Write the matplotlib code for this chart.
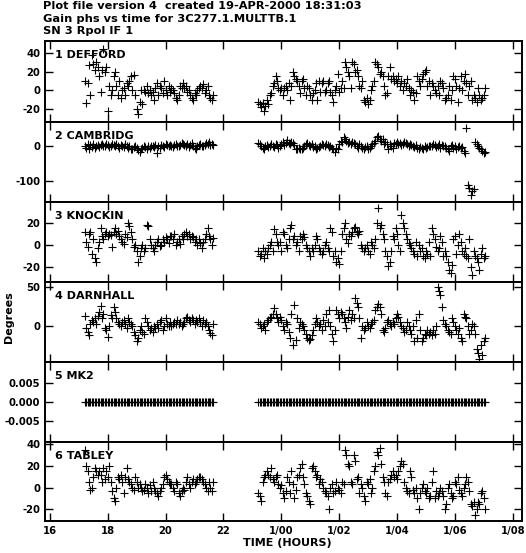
import numpy as np
import matplotlib
matplotlib.use("Agg")
import matplotlib.pyplot as plt

plt.rcParams['font.family'] = ['DejaVu Sans']
plt.rcParams['font.weight'] = 'bold'
plt.rcParams['axes.unicode_minus'] = False

# sample spacing 0.05 h; first pass starts 17.2 h, second pass 23.2 h
T0_A = 17.2
T0_B = 23.2
STEP = 0.05

antennas = ['1 DEFFORD', '2 CAMBRIDG', '3 KNOCKIN', '4 DARNHALL', '5 MK2', '6 TABLEY']

defford_a = [10, -14, 8, 27, -5, 38, 28, 22, 30, 25,
             15, -2, 22, 44, 20, 25, -22, 5, -5, 0,
             15, 20, 5, -5, 10, -8, 0, 3, -5, 8,
             5, 10, 15, 0, 17, -5, -20, -25, -12, 0,
             -15, 0, -2, 5, -3, 0, -5, -2, -10, 3,
             8, -5, 5, 3, -3, 10, 0, -5, 5, -2,
             3, 0, -3, -8, -10, -5, 5, 2, 8, 3,
             5, -2, 0, -5, -8, -10, -3, -5, 0, 2,
             5, 3, 7, -3, 0, 5, -5, -8, -10, -5]
defford_b = [-12, -15, -18, -14, -22, -17, -10, -15, -5, -3,
             5, 8, 15, 10, 2, 0, 3, -5, 2, 5,
             0, 8, -10, 5, 20, 15, 12, 10, 5, -3,
             10, 12, 3, -5, 5, 2, -5, -10, -3, 0,
             8, -10, 10, -2, 8, 10, -2, 0, 8, 10,
             -2, -5, -12, 0, 5, 18, -2, 3, 10, 3,
             30, 25, 20, 15, 3, 30, 28, 20, 22, 15,
             5, 2, 10, -10, -12, -8, -15, -10, 0, 5,
             10, 30, 28, 25, 18, 20, 15, 5, -5, -3,
             15, 25, 12, 15, 10, 12, 8, 15, 5, 10,
             0, 8, 5, 12, 3, -5, 0, -2, -10, -3,
             15, 10, 5, 12, 18, 20, 22, 5, 10, -5,
             8, 5, 0, -3, 5, -5, 10, 8, 3, -10,
             -8, -5, 5, -10, 0, 15, 12, 5, -12, 3,
             15, 0, 10, 18, 8, -5, 5, 10, -10, -5,
             -8, -12, 3, -5, -10, -8, -5, 2]

cambridg_a = [0, -5, 5, -8, 3, -3, 5, -5, 0, 2,
              -3, 3, 5, 0, -2, 5, 3, -3, 0, 4,
              2, -2, 5, 0, -5, 3, 0, -3, 5, -2,
              -5, 0, -8, -10, -3, 0, -5, -12, -17, -8,
              -5, 0, -3, -8, 0, -5, -2, 0, -3, 2,
              -20, 0, -5, 3, 0, -3, 5, 2, -2, 3,
              0, -3, 2, 5, -2, 0, 3, 8, 5, 2,
              0, 5, -3, 2, 8, 0, -5, -10, 0, 3,
              5, 0, -2, 3, 8, 5, 10, 3, 5, 2]
cambridg_b = [8, 5, 0, -5, -8, 0, 2, -3, 0, 5,
              0, -3, 5, 3, -5, 0, 5, 10, 3, 8,
              16, 8, 5, 10, 8, 3, -10, -8, -5, -10,
              -8, -5, 0, 5, 8, 3, 0, 5, -3, 0,
              -8, -5, -3, 0, 5, 3, 0, 5, 2, -3,
              0, -5, -10, -19, -5, -8, 5, 15, 10, 24,
              20, 15, 8, 10, 5, 10, 8, 5, 0, -5,
              5, 0, -5, -10, -3, 0, -8, -5, 0, 5,
              8, 15, 25, 29, 20, 15, 18, 5, 10, 5,
              -10, 5, 0, -5, 8, 5, 10, 5, 8, 3,
              5, 10, 8, 5, 0, 5, 3, 0, -3, 2,
              -5, -10, -3, -5, -8, 0, -5, -3, 0, -2,
              0, 5, 2, -3, 0, 5, -5, 3, 0, -2,
              -5, -10, -15, 0, 3, -5, 0, -8, -3, 0,
              -5, -3, -15, -22, 52, -112, -122, -141, -130, -125,
              10, 5, 0, -5, -10, -15, -20, -18]

knockin_a = [12, 3, -2, 10, 12, -8, 5, -12, -15, -3,
             3, 15, 8, 5, 10, 12, 8, 10, 9, -2,
             12, 15, 10, 13, 8, 5, 3, 1, 10, 7,
             20, 17, 12, 5, -2, 0, -5, -15, -10, -3,
             0, -5, -3, 18, 17, 5, 0, -3, -5, 0,
             3, 5, -1, 0, 5, 3, 7, 5, 2, 8,
             8, 5, 10, 0, 3, 5, 1, 8, 5, 10,
             12, 8, 10, 5, 8, 7, 3, 5, 0, 5,
             2, -3, 3, 5, 10, 15, 8, 5, 0, 6]
knockin_b = [-5, -10, -8, -3, -12, -5, -8, -3, 0, 3,
             -5, 14, 10, 3, 0, 3, -5, 12, 10, 0,
             -3, 5, 15, 18, 5, 8, 0, 3, -5, 8,
             5, 10, 7, 0, -3, -5, -10, -3, -5, 0,
             8, 5, -3, -5, -8, -5, 0, 3, -3, -5,
             15, 12, -10, -5, -15, -12, -17, -5, 10, 15,
             20, 5, 2, 10, 8, 12, 15, 16, 12, 10,
             13, 0, -3, -5, -3, 0, -5, -8, 3, 0,
             -3, 5, 20, 33, 15, 18, 10, 5, -5, -10,
             -19, -15, -5, 8, 5, 15, 10, 0, -5, 27,
             20, 15, 10, 5, 2, 0, -3, -5, -8, 3,
             -10, 0, -5, -3, -10, -12, -5, -8, 3, -10,
             15, 10, 5, -2, -5, -3, 8, 3, -10, -5,
             -10, -15, -22, -25, -18, 5, 8, -8, 0, 10,
             3, -5, -8, -3, -10, -12, 5, -20, -27, -5,
             -10, -12, -15, -22, -8, -3, -12, -10]

darnhall_a = [13, -2, -8, -12, 3, 8, 5, 10, 2, 13,
              18, 26, 10, 15, -2, -5, -14, 0, 14, 10,
              25, 18, 10, 5, 3, 0, 5, 8, 2, -3,
              10, 5, 3, 0, -8, -12, -20, -15, -5, 0,
              -8, -10, 10, 5, 0, -5, -3, -8, 0, -3,
              3, -2, 5, 8, -5, 0, 10, 3, 0, 5,
              0, 3, 5, 2, 8, 3, 5, 0, 3, 5,
              10, 12, 8, 5, 10, 8, 3, 8, 5, 10,
              5, 0, 8, 3, 5, 0, -5, -9, -12, 2]
darnhall_b = [5, 3, -2, 0, 3, -5, 5, 8, 10, 12,
              15, 23, 15, 10, 5, 12, 8, 0, -5, 5,
              3, -8, -15, 15, -25, 27, -18, 10, -3, 5,
              3, 0, -5, -10, -15, -18, -17, -12, -5, 3,
              10, 5, 0, 3, -5, 8, 0, 15, 5, 20,
              0, -10, -20, -5, 20, 15, 10, 18, 15, 10,
              5, -3, 12, 20, 8, 15, 10, 36, 30, 25,
              10, -15, 0, -5, -3, 5, 0, -2, 3, 5,
              8, 20, 25, 29, 25, 15, -5, -8, -3, 5,
              8, 3, 0, 5, 3, 10, 15, 12, 5, 0,
              -3, -8, -5, 5, 0, -5, -10, 0, -20, 8,
              -15, 15, -5, -20, -15, -10, -12, -5, -10, -8,
              -12, -5, -10, 0, 50, 45, 40, 25, 8, 3,
              0, -5, -8, -10, 10, 5, 0, -5, -10, -3,
              -15, -20, 15, 12, 10, 0, -10, -5, 3, 0,
              -10, -30, -35, -42, -25, -38, -20, -15]

mk2_a = [0.0] * 90
mk2_b = [0.0] * 158

tabley_a = [35, 20, 15, 5, -2, 0, 10, 18, 15, 12,
            15, 12, 5, 18, 8, 15, 10, 20, 5, -3,
            -10, -12, 0, 10, 8, 12, 5, -5, 10, 18,
            8, 5, 3, 0, -2, 10, 5, 0, 3, 0,
            -3, -2, 3, 0, -5, 2, -3, 5, 0, -3,
            -5, -8, -3, 0, 3, 10, 12, 8, 5, 3,
            3, 0, -3, 5, 3, -5, -8, -3, 0, -2,
            5, 10, 3, 0, 5, 8, 3, 5, 8, 10,
            10, 8, 5, 3, 0, -3, 5, 0, -3, 5]
tabley_b = [-5, -8, -12, 5, 10, 12, 15, 12, 10, 18,
            8, 5, 10, 12, 3, 0, 2, -5, -10, -3,
            10, 5, -5, 15, 3, -10, -2, 10, 12, 18,
            22, 10, 3, -5, -8, -12, -15, 18, 20, 15,
            10, 12, 3, 8, 5, 0, -3, -5, -8, -20,
            0, 3, -5, -3, 5, 0, -2, -5, 5, 3,
            35, 30, 22, 20, 5, 3, 30, 25, 8, 10,
            -5, 3, 0, -8, -12, 5, 3, 8, -5, 0,
            15, 20, 33, 30, 37, 22, 10, 5, -5, -8,
            5, 8, 12, 15, 10, 12, 8, 15, 20, 25,
            22, 5, 0, -3, -5, 15, 10, -2, -5, 0,
            -10, -20, -5, 0, 3, -3, -5, 0, -10, -8,
            5, 15, -10, -3, -8, -5, 0, -3, -8, -20,
            -15, 0, 3, -5, -10, -8, 5, 3, 10, -2,
            -5, -8, 0, 3, 10, 5, -3, -15, -17, -13,
            -25, -20, -13, -15, -5, -3, -10, -20]

series = [(defford_a, defford_b), (cambridg_a, cambridg_b), (knockin_a, knockin_b),
          (darnhall_a, darnhall_b), (mk2_a, mk2_b), (tabley_a, tabley_b)]

y_limits = [(-34, 53), (-161, 68), (-33.2, 38.6), (-46.5, 56.8), (-0.0105, 0.0105), (-30.8, 42.1)]
y_ticks = [[-20, 0, 20, 40], [-100, 0], [-20, 0, 20], [0, 50], [-0.005, 0.0, 0.005], [-20, 0, 20, 40]]

x_ticks = [16, 18, 20, 22, 24, 26, 28, 30, 32]
x_labels = ['16', '18', '20', '22', '1/00', '1/02', '1/04', '1/06', '1/08']

W, H = 526, 553
fig = plt.figure(figsize=(W / 100, H / 100), dpi=100)

edges = [41, 122, 202, 282, 362, 442, 521]
left, right = 45, 521.7

for i, (name, (va, vb)) in enumerate(zip(antennas, series)):
    top, bot = edges[i], edges[i + 1]
    ax = fig.add_axes([left / W, 1 - bot / H, (right - left) / W, (bot - top) / H])
    ta = T0_A + STEP * np.arange(len(va))
    tb = T0_B + STEP * np.arange(len(vb))
    for t, v in ((ta, va), (tb, vb)):
        ax.plot(t, v, '+', color='black', ms=5.2, mew=0.8, clip_on=(i != 1))
    ax.set_xlim(15.83, 32.31)
    ax.set_ylim(*y_limits[i])
    ax.set_xticks(x_ticks)
    ax.set_yticks(y_ticks[i])
    if i == 4:
        ax.set_yticklabels(['%.3f' % v for v in y_ticks[i]])
    ax.tick_params(direction='in', length=6, width=1, top=True, right=True,
                   labelsize=7.2, pad=3.5)
    for lab in ax.get_yticklabels():
        lab.set_fontweight('bold')
    if i == 5:
        ax.set_xticklabels(x_labels, fontweight='bold')
    else:
        ax.set_xticklabels([])
    for sp in ax.spines.values():
        sp.set_linewidth(1.4)
    ax.text(10 / (right - left), 1 - 14 / (bot - top), name, transform=ax.transAxes,
            fontsize=8, fontweight='bold', va='center', ha='left')

fig.text(43 / W, 1 - 6 / H, 'Plot file version 4  created 19-APR-2000 18:31:03',
         fontsize=8.2, fontweight='bold', va='center', ha='left')
fig.text(43 / W, 1 - 18.5 / H, 'Gain phs vs time for 3C277.1.MULTTB.1',
         fontsize=8.2, fontweight='bold', va='center', ha='left')
fig.text(43 / W, 1 - 31 / H, 'SN 3 Rpol IF 1',
         fontsize=8.2, fontweight='bold', va='center', ha='left')
fig.text(9 / W, 1 - 317 / H, 'Degrees', rotation=90, fontsize=8, fontweight='bold',
         va='center', ha='center')
fig.text(287 / W, 1 - 543 / H, 'TIME (HOURS)', fontsize=8, fontweight='bold',
         va='center', ha='center')

fig.savefig('out.png', dpi=100)
